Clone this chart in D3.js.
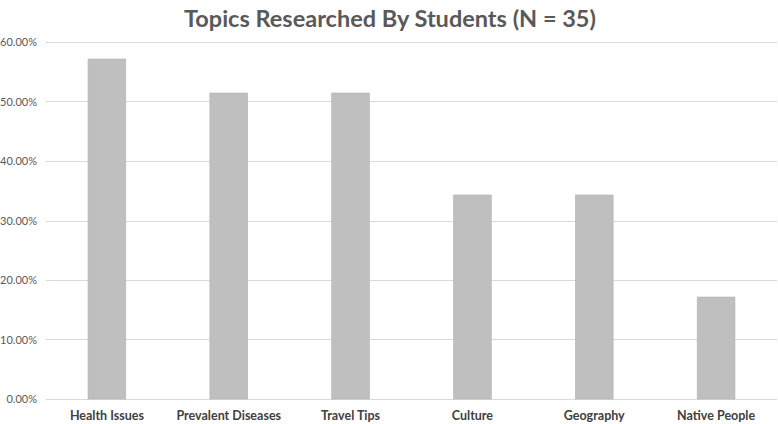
<!DOCTYPE html>
<html><head><meta charset="utf-8">
<script src="https://cdn.jsdelivr.net/npm/d3@7"></script>
<style>body{margin:0;background:#fff}svg{display:block}</style>
</head><body>
<svg id="c" width="778" height="424"></svg>
<script>
const categories = ["Health Issues","Prevalent Diseases","Travel Tips","Culture","Geography","Native People"];
const values = [0.5714, 0.5143, 0.5143, 0.3429, 0.3429, 0.1714];
const yTicks = [0, 0.1, 0.2, 0.3, 0.4, 0.5, 0.6];
const title = "Topics Researched By Students (N = 35)";

(function () {
const svg = d3.select("#c");
const font = "Lato, 'Open Sans', sans-serif";
const mLeft = 46, mRight = 777, mTop = 42, mBottom = 399;
const x = d3.scaleBand().domain(categories).range([mLeft, mRight]).paddingInner(0.69).paddingOuter(0.345);
const y = d3.scaleLinear().domain([0, 0.6]).range([mBottom, mTop]);

svg.append("g").selectAll("line").data(yTicks).join("line")
  .attr("x1", mLeft).attr("x2", mRight)
  .attr("y1", d => Math.round(y(d)) + 0.5).attr("y2", d => Math.round(y(d)) + 0.5)
  .attr("stroke", "#d9d9d9").attr("stroke-width", 1);

const yAxis = d3.axisLeft(y).tickValues(yTicks).tickFormat(d3.format(".2%")).tickSize(0).tickPadding(0);
const ga = svg.append("g").attr("transform", `translate(${mLeft - 9},0)`).call(yAxis);
ga.select(".domain").remove();
ga.selectAll("text").attr("font-family", font).attr("font-size", 11).attr("fill", "#595959");

svg.append("g").selectAll("rect").data(values).join("rect")
  .attr("x", (d, i) => x(categories[i]))
  .attr("width", x.bandwidth())
  .attr("y", d => y(d))
  .attr("height", d => mBottom - y(d))
  .attr("fill", "#bfbfbf").attr("stroke", "#b3b3b3").attr("stroke-width", 0.6);

const xAxis = d3.axisBottom(x).tickSize(0).tickPadding(0);
const gx = svg.append("g").attr("transform", `translate(0,${mBottom})`).call(xAxis);
gx.select(".domain").remove();
gx.selectAll("text").attr("font-family", font).attr("font-size", 12.5).attr("font-weight", "bold").attr("fill", "#404040")
  .attr("y", 21).attr("dy", null);

svg.append("text").attr("x", 390).attr("y", 27).attr("text-anchor", "middle")
  .attr("font-family", font).attr("font-weight", "bold").attr("font-size", 23.5)
  .attr("fill", "#595959").text(title);
})();
</script>
</body></html>
